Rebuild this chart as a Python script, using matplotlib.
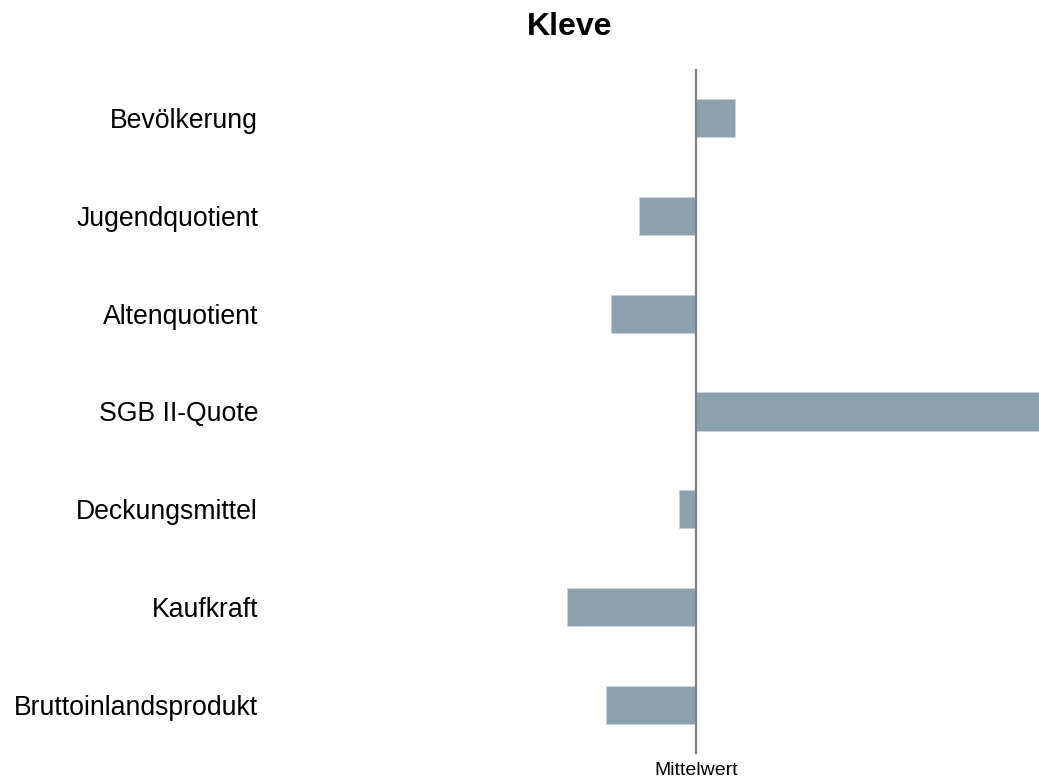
import matplotlib.pyplot as plt

# Abweichung vom Mittelwert (relative Einheiten)
categories = ["Bevölkerung", "Jugendquotient", "Altenquotient", "SGB II-Quote",
              "Deckungsmittel", "Kaufkraft", "Bruttoinlandsprodukt"]
values = [0.39, -0.57, -0.85, 3.60, -0.17, -1.29, -0.90]
title = "Kleve"
center_label = "Mittelwert"

plt.rcParams['font.family'] = ['Liberation Sans', 'DejaVu Sans']

W, H = 1039, 780
fig = plt.figure(figsize=(W / 100, H / 100), dpi=100)
left, right, top, bottom = 270, 1039, 69, 754
ax = fig.add_axes([left / W, 1 - bottom / H, (right - left) / W, (bottom - top) / H])

ypos = list(range(len(categories)))
ax.barh(ypos, values, height=0.39, color="#8ca1ad", edgecolor="#c9d3d9", linewidth=0.6, zorder=2)
ax.axvline(0, color="#808080", linewidth=1.6, zorder=3)

ax.set_xlim(-4.26, 3.43)
ax.set_ylim(len(categories) - 0.5, -0.5)

ax.set_yticks(ypos)
ax.set_yticklabels(categories, fontsize=19.2)
ax.set_xticks([0])
ax.set_xticklabels([center_label], fontsize=14)
ax.tick_params(axis="y", length=0, pad=8.6)
ax.tick_params(axis="x", length=0, pad=5.5)
for s in ax.spines.values():
    s.set_visible(False)

fig.text(570 / W, 1 - 27 / H, title, fontsize=23, fontweight="bold", ha="center", va="center")

fig.savefig("out.png", dpi=100)
